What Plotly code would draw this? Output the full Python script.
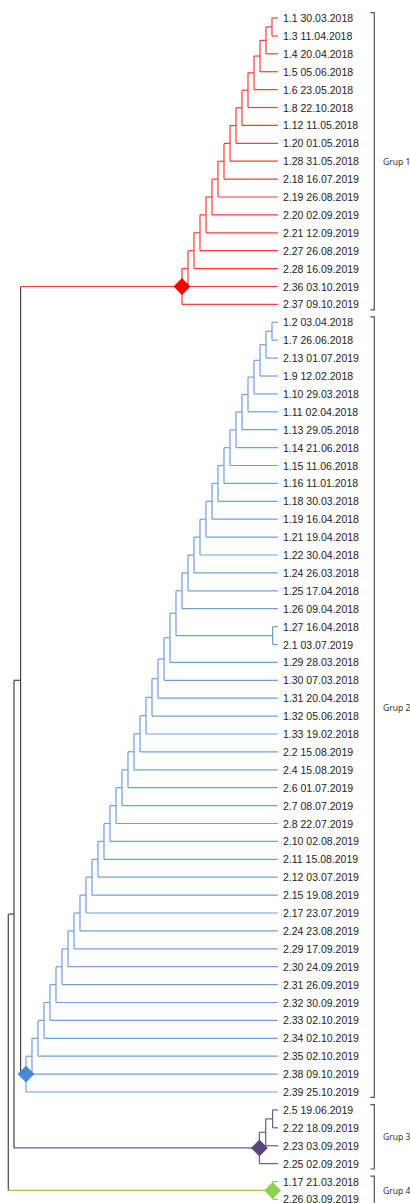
import plotly.graph_objects as go

# ---------------- data ----------------
LEAVES = [
    "1.1 30.03.2018", "1.3 11.04.2018", "1.4 20.04.2018", "1.5 05.06.2018",
    "1.6 23.05.2018", "1.8 22.10.2018", "1.12 11.05.2018", "1.20 01.05.2018",
    "1.28 31.05.2018", "2.18 16.07.2019", "2.19 26.08.2019", "2.20 02.09.2019",
    "2.21 12.09.2019", "2.27 26.08.2019", "2.28 16.09.2019", "2.36 03.10.2019",
    "2.37 09.10.2019",
    "1.2 03.04.2018", "1.7 26.06.2018", "2.13 01.07.2019", "1.9 12.02.2018",
    "1.10 29.03.2018", "1.11 02.04.2018", "1.13 29.05.2018", "1.14 21.06.2018",
    "1.15 11.06.2018", "1.16 11.01.2018", "1.18 30.03.2018", "1.19 16.04.2018",
    "1.21 19.04.2018", "1.22 30.04.2018", "1.24 26.03.2018", "1.25 17.04.2018",
    "1.26 09.04.2018", "1.27 16.04.2018", "2.1 03.07.2019", "1.29 28.03.2018",
    "1.30 07.03.2018", "1.31 20.04.2018", "1.32 05.06.2018", "1.33 19.02.2018",
    "2.2 15.08.2019", "2.4 15.08.2019", "2.6 01.07.2019", "2.7 08.07.2019",
    "2.8 22.07.2019", "2.10 02.08.2019", "2.11 15.08.2019", "2.12 03.07.2019",
    "2.15 19.08.2019", "2.17 23.07.2019", "2.24 23.08.2019", "2.29 17.09.2019",
    "2.30 24.09.2019", "2.31 26.09.2019", "2.32 30.09.2019", "2.33 02.10.2019",
    "2.34 02.10.2019", "2.35 02.10.2019", "2.38 09.10.2019", "2.39 25.10.2019",
    "2.5 19.06.2019", "2.22 18.09.2019", "2.23 03.09.2019", "2.25 02.09.2019",
    "1.17 21.03.2018", "2.26 03.09.2019",
]
GROUP_NAMES = ["Grup 1", "Grup 2", "Grup 3", "Grup 4"]
GROUP_SIZES = [17, 44, 4, 2]

# merges: (child A, child B, height); merge k creates node "n{k}"
MERGES = [
    # Grup 1
    ("1.1", "1.3", 1.0), ("n0", "1.4", 2.0), ("n1", "1.5", 3.0), ("n2", "1.6", 4.0),
    ("n3", "1.8", 5.0), ("n4", "1.12", 6.0), ("n5", "1.20", 7.0), ("n6", "1.28", 8.0),
    ("n7", "2.18", 9.0), ("n8", "2.19", 10.0), ("n9", "2.20", 11.0), ("n10", "2.21", 12.0),
    ("n11", "2.27", 13.0), ("n12", "2.28", 14.0), ("n13", "2.36", 15.0), ("n14", "2.37", 16.0),
    # Grup 2
    ("1.2", "1.7", 1.0), ("n16", "2.13", 2.0), ("n17", "1.9", 3.0), ("n18", "1.10", 4.0),
    ("n19", "1.11", 5.0), ("n20", "1.13", 6.0), ("n21", "1.14", 7.0), ("n22", "1.15", 8.0),
    ("n23", "1.16", 9.0), ("n24", "1.18", 10.0), ("n25", "1.19", 11.0), ("n26", "1.21", 12.0),
    ("n27", "1.22", 13.0), ("n28", "1.24", 14.0), ("n29", "1.25", 15.0), ("n30", "1.26", 16.0),
    ("1.27", "2.1", 0.9), ("n31", "n32", 17.0), ("n33", "1.29", 18.0), ("n34", "1.30", 19.0),
    ("n35", "1.31", 20.0), ("n36", "1.32", 21.0), ("n37", "1.33", 22.0), ("n38", "2.2", 23.0),
    ("n39", "2.4", 24.0), ("n40", "2.6", 25.0), ("n41", "2.7", 26.0), ("n42", "2.8", 27.0),
    ("n43", "2.10", 28.0), ("n44", "2.11", 29.0), ("n45", "2.12", 30.0), ("n46", "2.15", 31.0),
    ("n47", "2.17", 32.0), ("n48", "2.24", 33.0), ("n49", "2.29", 34.0), ("n50", "2.30", 35.0),
    ("n51", "2.31", 36.0), ("n52", "2.32", 37.0), ("n53", "2.33", 38.0), ("n54", "2.34", 39.0),
    ("n55", "2.35", 40.0), ("n56", "2.38", 41.0), ("n57", "2.39", 42.0),
    # Grup 3
    ("2.5", "2.22", 0.9), ("n59", "2.23", 2.05), ("n60", "2.25", 3.1),
    # Grup 4
    ("1.17", "2.26", 0.9),
    # between groups
    ("n15", "n58", 42.9), ("n63", "n61", 44.0), ("n64", "n62", 44.95),
]

# ---------------- style ----------------
LINE_COLORS = ["#ff3b3b", "#6f9fe0", "#6b5b8c", "#8fd14f"]
DIAMOND_COLORS = ["#ff0000", "#4a88d6", "#5a467b", "#8fd14f"]
BLACK = "#444444"

# ---------------- geometry ----------------
pos = {}
grp = {}
start = 0
for g, n in enumerate(GROUP_SIZES):
    for i in range(start, start + n):
        key = LEAVES[i].split(" ")[0]
        pos[key] = (0.0, float(i))
        grp[key] = g
    start += n

segs = {c: ([], []) for c in LINE_COLORS + [BLACK]}
diamonds = []


def col(node):
    g = grp[node]
    return BLACK if g is None else LINE_COLORS[g]


for k, (a, b, h) in enumerate(MERGES):
    name = f"n{k}"
    xa, ya = pos[a]
    xb, yb = pos[b]
    g = grp[a] if grp[a] == grp[b] else None
    pos[name] = (h, (ya + yb) / 2)
    grp[name] = g
    c = BLACK if g is None else LINE_COLORS[g]
    sx, sy = segs[c]
    sx += [h, h, None]
    sy += [ya, yb, None]
    for child, xc, yc in ((a, xa, ya), (b, xb, yb)):
        cx, cy = segs[col(child)]
        cx += [h, xc, None]
        cy += [yc, yc, None]
        if g is None and grp[child] is not None:
            diamonds.append((xc, yc, grp[child]))

fig = go.Figure()
for c, (sx, sy) in segs.items():
    fig.add_trace(go.Scatter(x=sx, y=sy, mode="lines",
                             line=dict(color=c, width=1.2),
                             hoverinfo="skip", showlegend=False))

fig.add_trace(go.Scatter(
    x=[d[0] for d in diamonds], y=[d[1] for d in diamonds], mode="markers",
    marker=dict(symbol="diamond", size=13,
                color=[DIAMOND_COLORS[d[2]] for d in diamonds],
                line=dict(width=0)),
    hoverinfo="skip", showlegend=False))

annotations = []
for i, lab in enumerate(LEAVES):
    annotations.append(dict(x=-0.45, y=i, text=lab, xanchor="left", yanchor="middle",
                            showarrow=False,
                            font=dict(family="Liberation Sans, Arial", size=10.5, color="#222222")))

# group brackets
BX, TX = -16.05, -15.4
start = 0
bx, by = [], []
for g, n in enumerate(GROUP_SIZES):
    top, bot = start - 0.3, start + n - 1 + 0.3
    bx += [TX, BX, BX, TX, None]
    by += [top, top, bot, bot, None]
    annotations.append(dict(x=-17.2, y=start + (n - 1) / 2, text=GROUP_NAMES[g],
                            xanchor="left", yanchor="middle", showarrow=False,
                            font=dict(family="Noto Sans, Open Sans", size=8.5, color="#333333")))
    start += n
fig.add_trace(go.Scatter(x=bx, y=by, mode="lines", line=dict(color="#555555", width=1.2),
                         hoverinfo="skip", showlegend=False))

fig.update_layout(
    width=410, height=1203, margin=dict(l=0, r=0, t=0, b=0),
    plot_bgcolor="white", paper_bgcolor="white",
    xaxis=dict(range=[46.33, -22.0], visible=False, fixedrange=True),
    yaxis=dict(range=[66.2, -1.006], visible=False, fixedrange=True),
    annotations=annotations,
)
fig.write_html(
    "out.html",
    config={"displayModeBar": False},
    post_script="document.body.style.margin='0';document.body.style.padding='0';"
                "document.documentElement.style.overflow='hidden';",
)
